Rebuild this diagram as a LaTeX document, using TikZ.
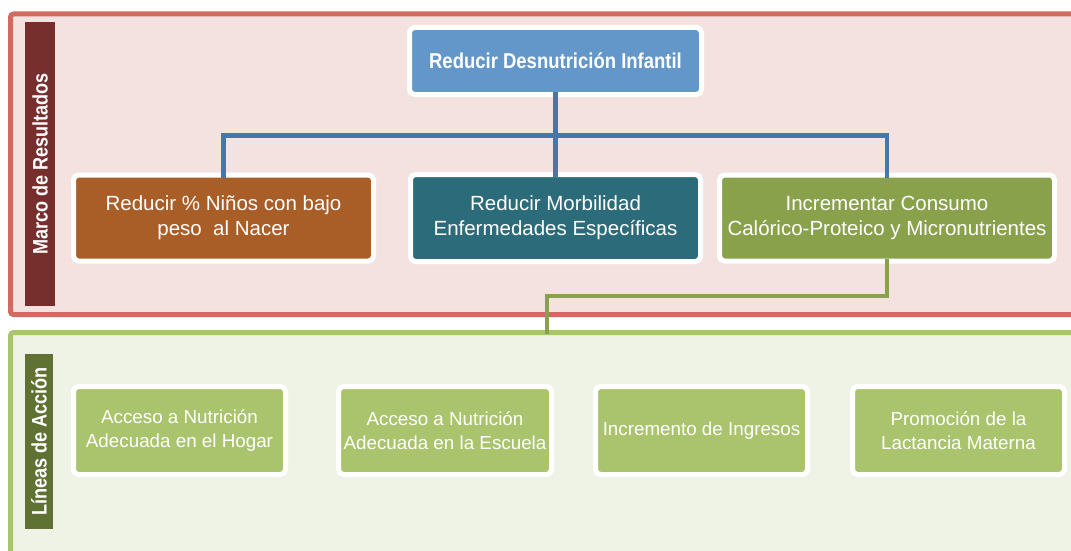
\documentclass[tikz,border=0pt]{standalone}
\usepackage{fontspec}
\setmainfont{Liberation Sans}
\newfontfamily\condfont[FakeStretch=0.86]{Liberation Sans}
\usetikzlibrary{positioning}

\definecolor{frameRed}{HTML}{D16B61}
\definecolor{fillRed}{HTML}{F4E2E0}
\definecolor{barRed}{HTML}{772F2E}
\definecolor{frameGreen}{HTML}{A9C46E}
\definecolor{fillGreen}{HTML}{EFF3E5}
\definecolor{barGreen}{HTML}{5F7233}
\definecolor{goalBlue}{HTML}{6497C9}
\definecolor{lineBlue}{HTML}{4876A8}
\definecolor{brownRes}{HTML}{A95D27}
\definecolor{tealRes}{HTML}{2C6B79}
\definecolor{oliveRes}{HTML}{8AA14C}
\definecolor{accGreen}{HTML}{AAC46E}

\begin{document}
\begin{tikzpicture}[x=1pt, y=-1pt,
  box/.style={draw=white, line width=5pt, rounded corners=5pt, outer sep=0pt,
    inner sep=0pt, text=white, align=center,
    font=\fontsize{20.5}{25}\selectfont},
  accbox/.style={box, fill=accGreen, minimum width=212pt, minimum height=88pt,
    font=\fontsize{18.8}{24.5}\selectfont},
  bar/.style={rotate=90, inner sep=0pt, text=white,
    font=\condfont\bfseries\fontsize{21}{24}\selectfont},
  link/.style={line width=4.5pt, shorten <=-2.5pt, shorten >=-2.5pt}
]
\useasboundingbox (0,0) rectangle (1071,551);
\clip (0,0) rectangle (1071,551);

% frames
\draw[draw=frameRed, fill=fillRed, line width=5pt, rounded corners=3pt] (10.5,14) rectangle (1090,314.5);
\draw[draw=frameGreen, fill=fillGreen, line width=5pt, rounded corners=3pt] (10.5,332.5) rectangle (1090,580);

\node[bar, fill=barRed, minimum width=284pt, minimum height=30pt] (resLbl) at (40,164) {Marco de Resultados};
\node[bar, fill=barGreen, minimum width=175pt, minimum height=28pt] (accLbl) at (39,441.5) {Líneas de Acción};

% results
\node[box, fill=goalBlue, minimum width=292pt, minimum height=67pt,
  font=\condfont\bfseries\fontsize{21.5}{24}\selectfont] (goal) at (555.5,61) {Reducir Desnutrición Infantil};
\node[box, fill=tealRes, minimum width=290pt, minimum height=87pt] (res2) at (555.5,218) {Reducir Morbilidad\\Enfermedades Específicas};
\node[box, fill=brownRes, minimum width=300pt, minimum height=86pt, left=37pt of res2] (res1) {Reducir \% Niños con bajo\\peso \ al Nacer};
\node[box, fill=oliveRes, minimum width=335pt, minimum height=86pt, right=19pt of res2] (res3) {Incrementar Consumo\\Calórico-Proteico y Micronutrientes};

% action lines
\node[accbox] (acc1) at (179.5,430.5) {Acceso a Nutrición\\Adecuada en el Hogar};
\node[accbox, minimum width=213pt, right=53pt of acc1] (acc2) {Acceso a Nutrición\\Adecuada en la Escuela};
\node[accbox, right=44pt of acc2] (acc3) {Incremento de Ingresos};
\node[accbox, right=45pt of acc3] (acc4) {Promoción de la\\Lactancia Materna};

% connectors
\coordinate (split) at (555.5,135.5);
\coordinate (bend) at (547,296);
\coordinate (drop) at (547,332.5);
\draw[link, draw=lineBlue] (goal.south) -- (res2.north);
\draw[link, draw=lineBlue] (res1.north) |- (split) -| (res3.north);
\draw[link, draw=oliveRes, shorten >=-1pt] (res3.south) |- (bend) -- (drop);
\end{tikzpicture}
\end{document}
